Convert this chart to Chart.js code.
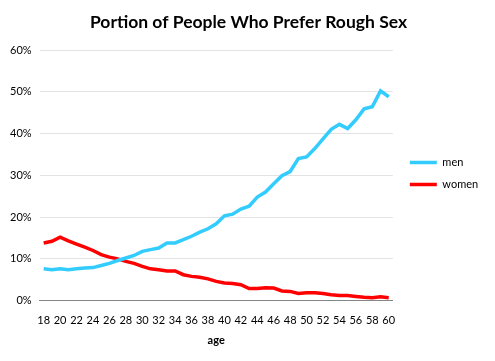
<!DOCTYPE html>
<html>
<head>
<meta charset="utf-8">
<script src="https://cdn.jsdelivr.net/npm/chart.js@4"></script>
<style>
  html, body { margin: 0; padding: 0; background: #fff; }
  #wrap { width: 495px; height: 361px; }
</style>
</head>
<body>
<div id="wrap"><canvas id="roughChart" width="495" height="361"></canvas></div>
<script>
// ages 18..60
const ages = [18,19,20,21,22,23,24,25,26,27,28,29,30,31,32,33,34,35,36,37,38,39,
              40,41,42,43,44,45,46,47,48,49,50,51,52,53,54,55,56,57,58,59,60];

// share (%) per age
const menPct = [7.6,7.4,7.6,7.4,7.6,7.8,7.9,8.4,8.9,9.6,10.2,10.8,11.8,12.2,12.6,13.8,13.8,14.6,15.4,16.4,17.2,18.4,
                20.3,20.7,21.9,22.6,24.8,26.0,28.0,29.9,30.9,34.0,34.4,36.4,38.7,41.0,42.2,41.2,43.3,45.9,46.4,50.2,48.8];
const womenPct = [13.8,14.2,15.2,14.3,13.5,12.8,12.0,11.0,10.4,10.0,9.4,8.9,8.2,7.6,7.4,7.1,7.1,6.2,5.8,5.6,5.2,4.6,
                  4.2,4.1,3.8,2.9,2.9,3.1,3.0,2.3,2.2,1.7,1.9,1.9,1.7,1.4,1.2,1.2,1.0,0.8,0.7,0.9,0.7];

const yTicks = [0, 10, 20, 30, 40, 50, 60];

const FONT = 'Lato, "Open Sans", sans-serif';

// legend sits a bit higher and needs room for "women"
const legendNudge = {
  id: 'legendNudge',
  beforeLayout(chart) {
    const lg = chart.legend;
    if (lg && !lg._nudged) {
      const fit = lg.fit;
      lg.fit = function () { fit.call(this); this.width += 14; };
      lg._nudged = true;
    }
  },
  afterLayout(chart) {
    const lg = chart.legend;
    if (lg) { lg.top -= 8; lg.bottom -= 8; }
  }
};

const ctx = document.getElementById('roughChart');
new Chart(ctx, {
  type: 'line',
  data: {
    labels: ages.map(String),
    datasets: [
      { label: 'men', data: menPct, borderColor: '#33CCFF', backgroundColor: '#33CCFF',
        borderWidth: 3.5, pointRadius: 0, tension: 0 },
      { label: 'women', data: womenPct, borderColor: '#FF0000', backgroundColor: '#FF0000',
        borderWidth: 3.5, pointRadius: 0, tension: 0 }
    ]
  },
  plugins: [legendNudge],
  options: {
    responsive: false,
    animation: false,
    layout: { padding: { left: 2, right: 0, top: 12, bottom: 10 } },
    plugins: {
      title: {
        display: true,
        text: 'Portion of People Who Prefer Rough Sex',
        color: '#000',
        font: { family: FONT, size: 17.5, weight: 'bold' },
        padding: { top: 0, bottom: 17 }
      },
      legend: {
        position: 'right',
        labels: {
          usePointStyle: true, pointStyle: 'line', pointStyleWidth: 27,
          color: '#000', padding: 11,
          font: { family: FONT, size: 11 }
        }
      },
      tooltip: { enabled: false }
    },
    scales: {
      x: {
        offset: true,
        grid: { display: false },
        border: { display: true, color: '#868686', width: 1 },
        ticks: {
          autoSkip: false, maxRotation: 0, color: '#000', padding: 5,
          font: { family: FONT, size: 11 },
          callback: (v, i) => (ages[i] % 2 === 0 ? String(ages[i]) : '')
        },
        title: { display: true, text: 'age', color: '#000', font: { family: FONT, size: 11, weight: 'bold' }, padding: { top: 2 } }
      },
      y: {
        min: 0, max: 60,
        afterBuildTicks: s => { s.ticks = yTicks.map(v => ({ value: v })); },
        grid: { color: '#E3E3E3', drawTicks: false },
        border: { display: false },
        ticks: { color: '#000', padding: 8, font: { family: FONT, size: 11 }, callback: v => v + '%' }
      },
      pad: {
        axis: 'y', position: 'right', display: true,
        grid: { display: false }, border: { display: false }, ticks: { display: false },
        afterFit: s => { s.width = 6; }
      }
    }
  }
});
</script>
</body>
</html>
